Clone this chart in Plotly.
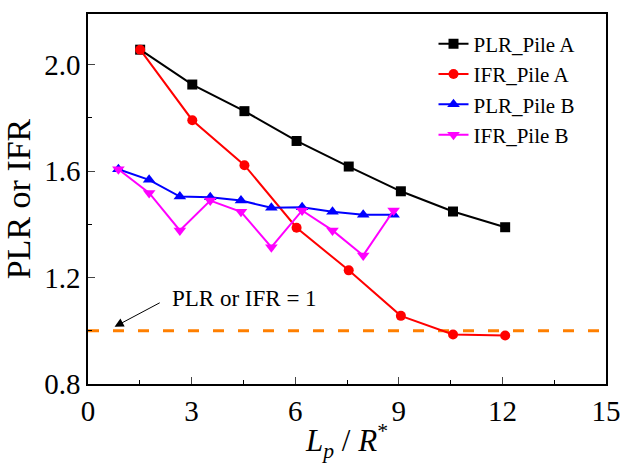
import plotly.graph_objects as go

# Data
x_pile_a = [1.51, 3.02, 4.53, 6.04, 7.55, 9.06, 10.57, 12.08]
plr_pile_a = [2.056, 1.925, 1.825, 1.713, 1.617, 1.524, 1.448, 1.389]
ifr_pile_a = [2.056, 1.791, 1.622, 1.387, 1.227, 1.056, 0.986, 0.982]

x_pile_b = [0.88, 1.77, 2.66, 3.54, 4.43, 5.31, 6.20, 7.08, 7.97, 8.85]
plr_pile_b = [1.607, 1.567, 1.504, 1.502, 1.489, 1.462, 1.464, 1.447, 1.436, 1.436]
ifr_pile_b = [1.607, 1.518, 1.377, 1.489, 1.447, 1.314, 1.452, 1.377, 1.283, 1.452]

ref_x = [0, 15]
ref_y = [1.0, 1.0]

x_ticks = [0, 3, 6, 9, 12, 15]
y_ticks = [0.8, 1.2, 1.6, 2.0]
y_tick_labels = ["0.8", "1.2", "1.6", "2.0"]

FONT = "Liberation Serif, Times New Roman, serif"

fig = go.Figure()

fig.add_trace(go.Scatter(x=ref_x, y=ref_y, mode="lines",
                         line=dict(color="#FF7F00", width=3, dash="11px,14px"),
                         showlegend=False, hoverinfo="skip"))

fig.add_trace(go.Scatter(x=x_pile_a, y=plr_pile_a, mode="lines+markers", name="PLR_Pile A",
                         line=dict(color="black", width=2),
                         marker=dict(symbol="square", size=10, color="black")))
fig.add_trace(go.Scatter(x=x_pile_a, y=ifr_pile_a, mode="lines+markers", name="IFR_Pile A",
                         line=dict(color="#FF0000", width=2),
                         marker=dict(symbol="circle", size=10, color="#FF0000")))
fig.add_trace(go.Scatter(x=x_pile_b, y=plr_pile_b, mode="lines+markers", name="PLR_Pile B",
                         line=dict(color="#0000FF", width=2),
                         marker=dict(symbol="triangle-up", size=11, color="#0000FF")))
fig.add_trace(go.Scatter(x=x_pile_b, y=ifr_pile_b, mode="lines+markers", name="IFR_Pile B",
                         line=dict(color="#FF00FF", width=2),
                         marker=dict(symbol="triangle-down", size=11, color="#FF00FF")))

fig.add_annotation(x=0.77, y=1.015, ax=2.12, ay=1.108, axref="x", ayref="y",
                   xref="x", yref="y", text="", showarrow=True,
                   arrowhead=2, arrowsize=1.8, arrowwidth=1, arrowcolor="black",
                   standoff=0, startstandoff=0)
fig.add_annotation(x=4.52, y=1.123, xref="x", yref="y", text="PLR or IFR = 1",
                   showarrow=False, font=dict(family=FONT, size=23, color="black"))

fig.update_layout(
    width=633, height=467,
    margin=dict(l=88, r=16, t=12, b=83),
    paper_bgcolor="white", plot_bgcolor="white",
    font=dict(family=FONT, color="black"),
    legend=dict(x=0.667, y=0.974, xanchor="left", yanchor="top",
                font=dict(family=FONT, size=21, color="black"),
                bgcolor="rgba(0,0,0,0)", tracegroupgap=0),
    xaxis=dict(range=[0, 15], tickvals=x_ticks, ticks="inside", ticklen=7,
               tickfont=dict(family=FONT, size=29), showgrid=False, zeroline=False,
               showline=True, linecolor="black", linewidth=1.5, mirror=True,
               minor=dict(ticks="inside", dtick=1.5, ticklen=4, tickcolor="black"),
               title=dict(text="<i>L</i><sub><i>p</i></sub> / <i>R</i><sup>*</sup>",
                          font=dict(family=FONT, size=31), standoff=4)),
    yaxis=dict(range=[0.8, 2.19], tickvals=y_ticks, ticktext=y_tick_labels,
               ticks="inside", ticklen=7,
               tickfont=dict(family=FONT, size=29), showgrid=False, zeroline=False,
               showline=True, linecolor="black", linewidth=1.5, mirror=True,
               minor=dict(ticks="inside", dtick=0.2, ticklen=4, tickcolor="black"),
               title=dict(text="PLR or IFR", font=dict(family=FONT, size=34), standoff=6)),
)

fig.write_html("out.html")
